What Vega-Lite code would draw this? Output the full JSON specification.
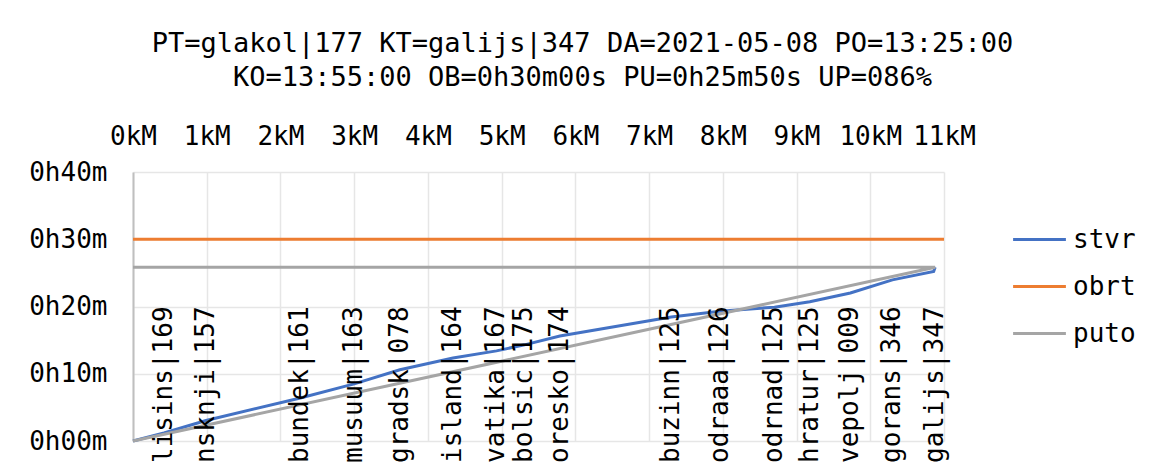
{
  "$schema": "https://vega.github.io/schema/vega-lite/v6.json",
  "width": 811,
  "height": 269,
  "autosize": {"type": "none"},
  "padding": {"left": 133, "top": 172, "right": 212, "bottom": 28},
  "background": "white",
  "title": {
    "text": ["PT=glakol|177 KT=galijs|347 DA=2021-05-08 PO=13:25:00", "KO=13:55:00 OB=0h30m00s PU=0h25m50s UP=086%"],
    "font": "DejaVu Sans Mono",
    "fontSize": 27,
    "fontWeight": "normal",
    "color": "black",
    "anchor": "middle",
    "dx": 44,
    "offset": 31,
    "lineHeight": 34
  },
  "config": {
    "font": "DejaVu Sans Mono",
    "view": {"stroke": null}
  },
  "datasets": {
    "lines": [
      {"series": "stvr", "km": 0, "min": 0, "ord": 0},
      {"series": "stvr", "km": 0.42, "min": 1.2, "ord": 1},
      {"series": "stvr", "km": 0.99, "min": 3.05, "ord": 2},
      {"series": "stvr", "km": 2.27, "min": 6.4, "ord": 3},
      {"series": "stvr", "km": 3.0, "min": 8.5, "ord": 4},
      {"series": "stvr", "km": 3.62, "min": 10.6, "ord": 5},
      {"series": "stvr", "km": 4.34, "min": 12.35, "ord": 6},
      {"series": "stvr", "km": 4.93, "min": 13.4, "ord": 7},
      {"series": "stvr", "km": 5.31, "min": 14.3, "ord": 8},
      {"series": "stvr", "km": 5.79, "min": 15.6, "ord": 9},
      {"series": "stvr", "km": 7.3, "min": 18.45, "ord": 10},
      {"series": "stvr", "km": 7.96, "min": 19.3, "ord": 11},
      {"series": "stvr", "km": 8.7, "min": 19.9, "ord": 12},
      {"series": "stvr", "km": 9.18, "min": 20.7, "ord": 13},
      {"series": "stvr", "km": 9.73, "min": 22.0, "ord": 14},
      {"series": "stvr", "km": 10.3, "min": 23.96, "ord": 15},
      {"series": "stvr", "km": 10.86, "min": 25.2, "ord": 16},
      {"series": "stvr", "km": 10.88, "min": 25.83, "ord": 17},
      {"series": "obrt", "km": 0, "min": 30, "ord": 0},
      {"series": "obrt", "km": 11, "min": 30, "ord": 1},
      {"series": "puto", "km": 0, "min": 0, "ord": 0},
      {"series": "puto", "km": 10.88, "min": 25.83, "ord": 1},
      {"series": "puto", "km": 0, "min": 25.83, "ord": 2}
    ],
    "stations": [
      {"name": "lisins|169", "km": 0.42},
      {"name": "nsknji|157", "km": 0.99},
      {"name": "bundek|161", "km": 2.27},
      {"name": "musuum|163", "km": 3.0},
      {"name": "gradsk|078", "km": 3.62},
      {"name": "island|164", "km": 4.34},
      {"name": "vatika|167", "km": 4.93},
      {"name": "bolsic|175", "km": 5.31},
      {"name": "oresko|174", "km": 5.79},
      {"name": "buzinn|125", "km": 7.3},
      {"name": "odraaa|126", "km": 7.96},
      {"name": "odrnad|125", "km": 8.7},
      {"name": "hratur|125", "km": 9.18},
      {"name": "vepolj|009", "km": 9.73},
      {"name": "gorans|346", "km": 10.3},
      {"name": "galijs|347", "km": 10.88}
    ]
  },
  "layer": [
    {
      "data": {"name": "lines"},
      "mark": {"type": "line", "strokeWidth": 3, "strokeCap": "butt"},
      "encoding": {
        "x": {
          "field": "km", "type": "quantitative",
          "scale": {"domain": [0, 11], "nice": false, "zero": false},
          "axis": {"orient": "top", "values": [0,1,2,3,4,5,6,7,8,9,10,11], "labelExpr": "datum.value + 'kM'", "grid": true, "gridColor": "#e6e6e6", "gridWidth": 1.5, "domain": false, "ticks": false, "tickSize": 0, "labelPadding": 28, "labelBaseline": "alphabetic", "labelFontSize": 26, "labelFont": "DejaVu Sans Mono", "labelColor": "black", "title": null, "labelFlush": false, "labelOverlap": false}
        },
        "y": {
          "field": "min", "type": "quantitative",
          "scale": {"domain": [0, 40], "nice": false},
          "axis": {"values": [0,10,20,30,40], "labelExpr": "'0h' + (datum.value < 10 ? '0' : '') + datum.value + 'm'", "grid": true, "gridColor": "#e6e6e6", "gridWidth": 1.5, "domain": true, "domainColor": "#bfbfbf", "domainWidth": 2, "ticks": false, "tickSize": 0, "labelPadding": 26, "labelFontSize": 26, "labelFont": "DejaVu Sans Mono", "labelColor": "black", "title": null, "labelFlush": false, "labelOverlap": false}
        },
        "color": {
          "field": "series", "type": "nominal",
          "scale": {"domain": ["stvr", "obrt", "puto"], "range": ["#4472C4", "#ED7D31", "#A5A5A5"]},
          "legend": {"title": null, "orient": "none", "legendX": 881, "legendY": 42, "padding": 0, "symbolType": "M-1.1,0H1.1", "symbolSize": 2304, "symbolStrokeWidth": 3, "rowPadding": 8, "labelOffset": 8, "labelFontSize": 26, "labelFont": "DejaVu Sans Mono", "labelColor": "black"}
        },
        "order": {"field": "ord", "type": "quantitative"}
      }
    },
    {
      "mark": {"type": "rule", "color": "#bfbfbf", "strokeWidth": 2},
      "encoding": {
        "y": {"datum": 0, "type": "quantitative"}
      }
    },
    {
      "data": {"name": "stations"},
      "mark": {"type": "text", "angle": 270, "align": "left", "baseline": "middle", "dx": -22, "fontSize": 26, "font": "DejaVu Sans Mono", "color": "black"},
      "encoding": {
        "x": {"field": "km", "type": "quantitative"},
        "y": {"datum": 0, "type": "quantitative"},
        "text": {"field": "name"}
      }
    }
  ]
}
